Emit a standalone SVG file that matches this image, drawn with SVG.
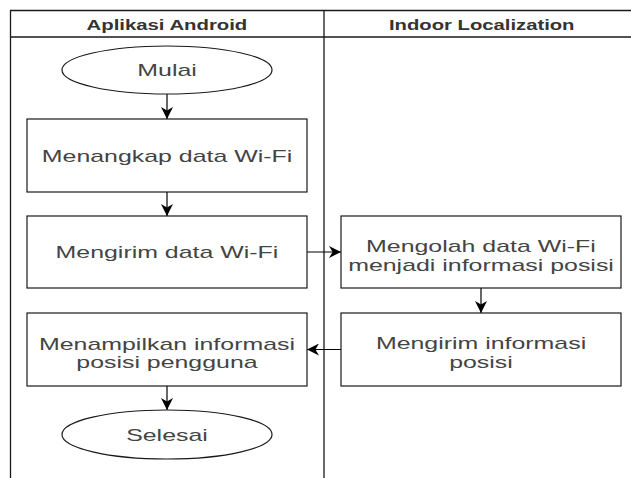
<svg xmlns="http://www.w3.org/2000/svg" width="631" height="478" viewBox="0 0 631 478">
<style>
.frame{fill:none;stroke:#1a1a1a;stroke-width:1.3}
.box{fill:#fff;stroke:#1a1a1a;stroke-width:1.2}
.t{font-family:"Liberation Sans",Arial,sans-serif;font-size:17px;fill:#444}
.h{font-family:"Liberation Sans",Arial,sans-serif;font-size:14px;font-weight:bold;fill:#333}
.c{fill:none;stroke:#000;stroke-width:1.2}
</style>
<defs>
<marker id="arr" markerUnits="userSpaceOnUse" markerWidth="12" markerHeight="12" refX="10" refY="5" orient="auto" viewBox="0 0 10 10">
<path d="M0,0 L10,5 L0,10 L3,5 z" fill="#000"/>
</marker>
</defs>
<rect width="631" height="478" fill="#fff"/>
<g id="pool">
<path class="frame" d="M10.5,478 V10.5 H631 M10.5,37 H631 M324,10.5 V478"/>
<text class="h" x="86.6" y="29.5" textLength="160.7" lengthAdjust="spacingAndGlyphs">Aplikasi Android</text>
<text class="h" x="389" y="29.5" textLength="185.5" lengthAdjust="spacingAndGlyphs">Indoor Localization</text>
</g>
<g id="connectors">
<line class="c" x1="167" y1="94" x2="167" y2="119" marker-end="url(#arr)"/>
<line class="c" x1="167" y1="192" x2="167" y2="216" marker-end="url(#arr)"/>
<line class="c" x1="307" y1="252" x2="341" y2="252" marker-end="url(#arr)"/>
<line class="c" x1="481" y1="288" x2="481" y2="313" marker-end="url(#arr)"/>
<line class="c" x1="341" y1="349.5" x2="307" y2="349.5" marker-end="url(#arr)"/>
<line class="c" x1="167" y1="386" x2="167" y2="410" marker-end="url(#arr)"/>
</g>
<g id="mulai">
<ellipse class="box" cx="167" cy="70" rx="105" ry="24"/>
<text class="t" x="137.3" y="76" textLength="59.5" lengthAdjust="spacingAndGlyphs">Mulai</text>
</g>
<g id="menangkap">
<rect class="box" x="27" y="119" width="280" height="73"/>
<text class="t" x="41.8" y="162" textLength="250.5" lengthAdjust="spacingAndGlyphs">Menangkap data Wi-Fi</text>
</g>
<g id="mengirim-data">
<rect class="box" x="27" y="216" width="280" height="72"/>
<text class="t" x="55.6" y="258" textLength="222.7" lengthAdjust="spacingAndGlyphs">Mengirim data Wi-Fi</text>
</g>
<g id="mengolah">
<rect class="box" x="341" y="216" width="280" height="72"/>
<text class="t" x="366.1" y="252" textLength="229.7" lengthAdjust="spacingAndGlyphs">Mengolah data Wi-Fi</text>
<text class="t" x="348.2" y="270.5" textLength="265.7" lengthAdjust="spacingAndGlyphs">menjadi informasi posisi</text>
</g>
<g id="mengirim-info">
<rect class="box" x="341" y="313" width="280" height="73"/>
<text class="t" x="375.9" y="349" textLength="210.3" lengthAdjust="spacingAndGlyphs">Mengirim informasi</text>
<text class="t" x="449.2" y="367.5" textLength="63.6" lengthAdjust="spacingAndGlyphs">posisi</text>
</g>
<g id="menampilkan">
<rect class="box" x="27" y="313" width="280" height="73"/>
<text class="t" x="39" y="349.5" textLength="256" lengthAdjust="spacingAndGlyphs">Menampilkan informasi</text>
<text class="t" x="76.3" y="368" textLength="181.3" lengthAdjust="spacingAndGlyphs">posisi pengguna</text>
</g>
<g id="selesai">
<ellipse class="box" cx="167" cy="434.5" rx="105" ry="24.5"/>
<text class="t" x="126.2" y="440.5" textLength="81.6" lengthAdjust="spacingAndGlyphs">Selesai</text>
</g>
</svg>
